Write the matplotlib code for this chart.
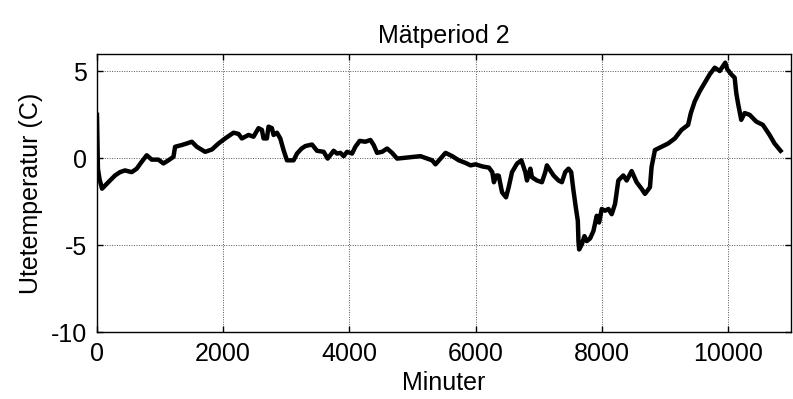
import matplotlib
matplotlib.use('Agg')
import matplotlib.pyplot as plt

# Mätperiod 2 - utetemperatur avläst ur originalbilden
minuter = [0, 15, 40, 80, 180, 286, 365, 444, 550, 630, 709, 788, 868, 974,
           1053, 1132, 1212, 1238, 1344, 1424, 1503, 1582, 1714, 1820, 1926,
           2032, 2164, 2243, 2296, 2402, 2481, 2560, 2614, 2640, 2693, 2719,
           2772, 2799, 2852, 2905, 2957, 3011, 3116, 3170, 3240, 3302, 3408,
           3487, 3593, 3656, 3751, 3804, 3857, 3910, 3963, 4043, 4095, 4164,
           4254, 4333, 4386, 4439, 4519, 4598, 4677, 4757, 4862, 5021, 5127,
           5233, 5312, 5365, 5444, 5524, 5630, 5735, 5841, 5921, 6000, 6106,
           6212, 6265, 6291, 6330, 6367, 6420, 6483, 6525, 6578, 6657, 6726,
           6789, 6815, 6868, 6894, 6973, 7052, 7105, 7131, 7184, 7236, 7315,
           7368, 7421, 7473, 7516, 7552, 7589, 7621, 7631, 7642, 7684, 7726,
           7763, 7816, 7868, 7921, 7958, 8000, 8053, 8106, 8158, 8211, 8263,
           8342, 8395, 8474, 8553, 8632, 8685, 8764, 8790, 8843, 8948, 9053,
           9159, 9264, 9369, 9412, 9475, 9554, 9633, 9712, 9791, 9870, 9922,
           9958, 9990, 10053, 10107, 10132, 10159, 10211, 10265, 10344, 10449,
           10554, 10660, 10739, 10834]
temp = [2.5, -0.6, -1.2, -1.75, -1.38, -0.99, -0.8, -0.7, -0.8, -0.6, -0.2,
        0.17, -0.08, -0.08, -0.3, -0.12, 0.08, 0.66, 0.76, 0.85, 0.95, 0.66,
        0.37, 0.5, 0.85, 1.14, 1.47, 1.4, 1.14, 1.34, 1.24, 1.73, 1.63, 1.14,
        1.14, 1.82, 1.73, 1.34, 1.47, 1.14, 0.47, -0.12, -0.12, 0.27, 0.55,
        0.7, 0.79, 0.43, 0.37, -0.02, 0.43, 0.27, 0.31, 0.12, 0.37, 0.27,
        0.66, 1.0, 0.95, 1.05, 0.76, 0.31, 0.37, 0.56, 0.31, -0.02, 0.02,
        0.08, 0.12, -0.02, -0.12, -0.35, -0.02, 0.31, 0.12, -0.12, -0.27,
        -0.41, -0.35, -0.47, -0.54, -0.8, -1.38, -0.99, -1.0, -1.96, -2.25,
        -1.67, -0.8, -0.31, -0.12, -0.8, -1.28, -0.6, -1.09, -1.28, -1.38,
        -0.8, -0.41, -0.7, -0.99, -1.28, -1.38, -0.8, -0.6, -0.8, -1.86,
        -2.83, -3.6, -4.77, -5.25, -4.96, -4.48, -4.77, -4.61, -4.19, -3.31,
        -3.7, -2.92, -3.02, -2.92, -3.22, -2.63, -1.28, -0.99, -1.28, -0.74,
        -1.38, -1.76, -2.05, -1.67, -0.5, 0.47, 0.66, 0.85, 1.14, 1.63, 1.92,
        2.6, 3.28, 3.86, 4.34, 4.83, 5.21, 5.02, 5.31, 5.5, 5.12, 4.83, 4.63,
        3.76, 3.18, 2.21, 2.6, 2.5, 2.11, 1.92, 1.34, 0.85, 0.43]

x_ticks = [0, 2000, 4000, 6000, 8000, 10000]
y_ticks = [-10, -5, 0, 5]

plt.rcParams['font.family'] = ['Liberation Sans', 'DejaVu Sans']
plt.rcParams['font.size'] = 18
plt.rcParams['axes.unicode_minus'] = False

fig = plt.figure(figsize=(7.93, 3.99), dpi=100)
ax = fig.add_axes([0.1223, 0.1679, 0.8752, 0.6968])

ax.plot(minuter, temp, color='black', linewidth=3.2)

ax.set_xlim(0, 11000)
ax.set_ylim(-10, 6)
ax.set_xticks(x_ticks)
ax.set_yticks(y_ticks)
ax.grid(True, color='#555555', linestyle=(0, (1, 1.5)), linewidth=0.7)
ax.tick_params(direction='in', top=True, right=True, length=4, width=1,
               labelsize=18, pad=7)
for s in ax.spines.values():
    s.set_linewidth(1)

ax.set_title('Mätperiod 2', fontsize=18, pad=8)
ax.set_xlabel('Minuter', fontsize=18, labelpad=4)
ax.set_ylabel('Utetemperatur (C)', fontsize=18, labelpad=6)

fig.savefig('out.png', dpi=100)
